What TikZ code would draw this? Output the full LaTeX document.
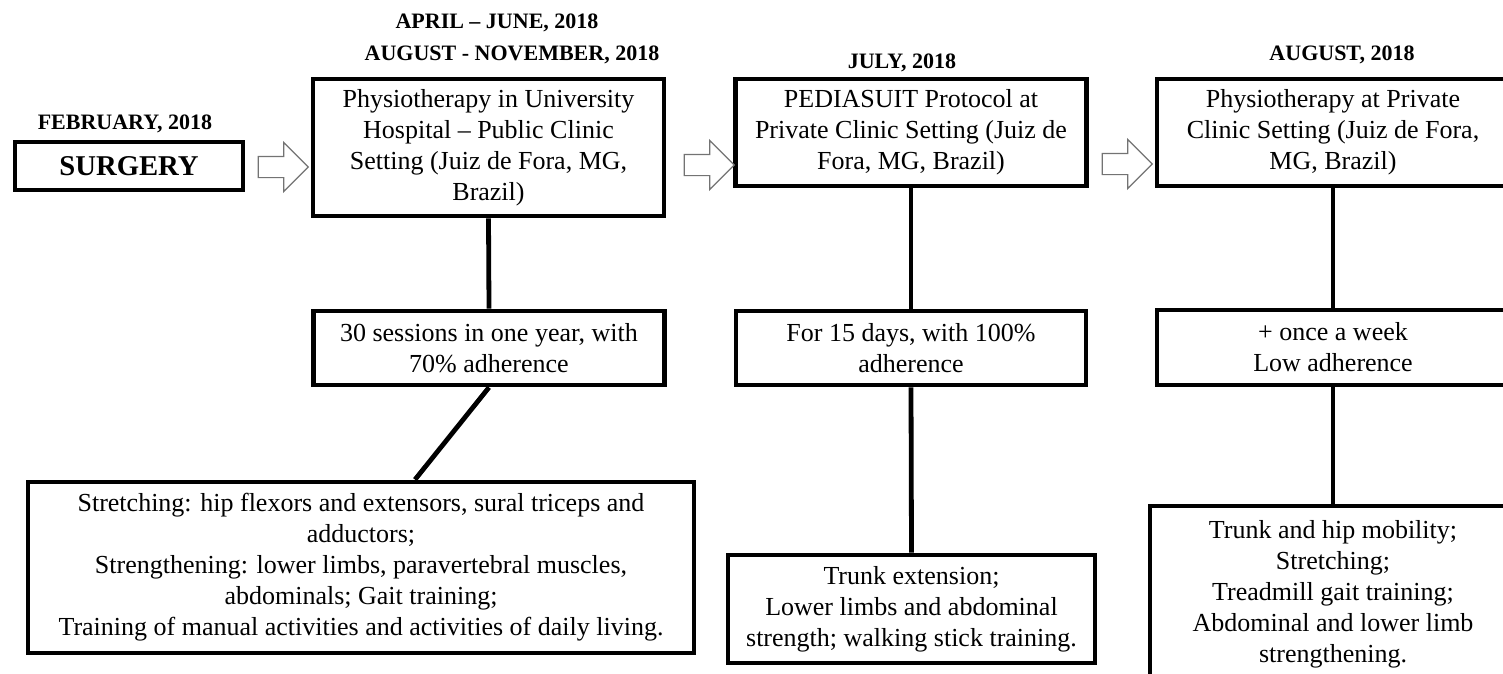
\documentclass[tikz,border=0pt]{standalone}
\usepackage{fontspec}
\setmainfont{Liberation Serif}
\usetikzlibrary{shapes.arrows}

\tikzset{every picture/.style={line width=0.75pt}}
\tikzset{
  box/.style={draw, line width=3.6pt, inner sep=0pt, align=center, font=\fontsize{19.5}{23.25}\selectfont},
  datelbl/.style={inner sep=0pt, align=center, font=\bfseries\fontsize{16.5}{20}\selectfont},
  blockarr/.style={draw=black!55, fill=white, line width=0.9pt, single arrow, inner sep=7.5pt, minimum height=37.5pt, single arrow head extend=10.5pt},
  link/.style={line width=3.6pt}
}

\begin{document}
\begin{tikzpicture}[x=0.75pt,y=0.75pt,yscale=-1,xscale=1]
	\useasboundingbox (0,0) rectangle (1503,674); %page is 1503 x 674
	%Shape: Rectangle [surgery]
	\draw (129,166) node [box, minimum width=171pt, minimum height=36pt, font=\bfseries\fontsize{21.5}{25}\selectfont] (surg) {SURGERY};
	%Shape: Rectangle [first stage]
	\draw (488.5,147.5) node [box, minimum width=263.25pt, minimum height=102.75pt] (phys) {Physiotherapy in University\\ Hospital -- Public Clinic\\ Setting (Juiz de Fora, MG,\\ Brazil)};
	\draw (911,132.5) node [box, minimum width=263.25pt, minimum height=80.25pt] (pedia) {PEDIASUIT Protocol at\\ Private Clinic Setting (Juiz de\\ Fora, MG, Brazil)};
	\draw (1333,132.5) node [box, minimum width=264pt, minimum height=80.25pt] (priv) {Physiotherapy at Private\\ Clinic Setting (Juiz de Fora,\\ MG, Brazil)};
	%Shape: Rectangle [adherence row]
	\draw (489,348) node [box, minimum width=263.25pt, minimum height=55.5pt] (sess) {30 sessions in one year, with\\ 70\% adherence};
	\draw (911,348) node [box, minimum width=262.5pt, minimum height=55.5pt] (days) {For 15 days, with 100\%\\ adherence};
	\draw (1333,347.5) node [box, minimum width=264pt, minimum height=56.25pt] (week) {+ once a week\\ Low adherence};
	%Shape: Rectangle [activities row]
	\draw (361,567.5) node [box, minimum width=499.5pt, minimum height=128.25pt] (act2) {Stretching: hip flexors and extensors, sural triceps and\\ adductors;\\ Strengthening: lower limbs, paravertebral muscles,\\ abdominals; Gait training;\\ Training of manual activities and activities of daily living.};
	\draw (911.5,609) node [box, minimum width=275.25pt, minimum height=81pt] (act3) {Trunk extension;\\ Lower limbs and abdominal\\ strength; walking stick training.};
	\draw (1333,594) node [box, minimum width=274.5pt, minimum height=132pt] (act4) {Trunk and hip mobility;\\ Stretching;\\ Treadmill gait training;\\ Abdominal and lower limb\\ strengthening.};
	%Straight Lines
	\draw [link] (phys.south) -- (sess.north);
	\draw [link] (sess.south) -- ([xshift=40.5pt]act2.north);
	\draw [link] (pedia.south) -- (days.north);
	\draw [link] (days.south) -- (act3.north);
	\draw [link] (priv.south) -- (week.north);
	\draw [link] (week.south) -- (act4.north);
	%Shape: Right Arrow
	\draw (278,167) node [blockarr] (arr1) {};
	\draw (704,165) node [blockarr] (arr2) {};
	\draw (1122,164) node [blockarr] (arr3) {};
	% Text Node
	\draw (125,124) node [datelbl] (feb) {FEBRUARY, 2018};
	% Text Node
	\draw (497,23) node [datelbl] (aprjun) {APRIL -- JUNE, 2018};
	% Text Node
	\draw (512,55) node [datelbl] (augnov) {AUGUST - NOVEMBER, 2018};
	% Text Node
	\draw (902,63) node [datelbl] (jul) {JULY, 2018};
	% Text Node
	\draw (1342,55) node [datelbl] (aug) {AUGUST, 2018};
\end{tikzpicture}
\end{document}
